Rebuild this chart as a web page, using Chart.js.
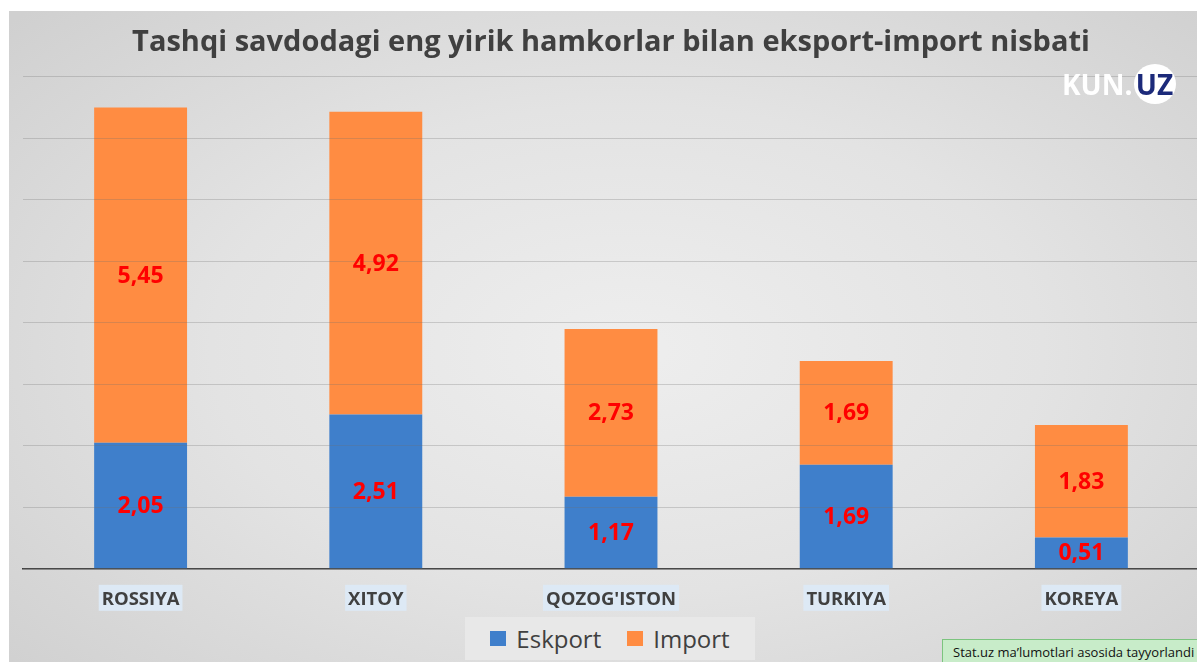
<!DOCTYPE html>
<html>
<head>
<meta charset="utf-8">
<script src="https://cdn.jsdelivr.net/npm/chart.js@4.4.0/dist/chart.umd.min.js"></script>
<style>
  html, body { margin: 0; padding: 0; background: #fff; overflow: hidden; }
  #wrap { position: relative; width: 1197px; height: 662px; overflow: hidden; background: #fff; }
  #bg {
    position: absolute; left: 9px; top: 11px; width: 1188px; height: 651px;
    background: radial-gradient(ellipse 70% 75% at 52% 52%, #eeeeee 0%, #e3e3e3 50%, #d0d0d0 100%);
  }
  #chart { position: absolute; left: 0; top: 0; }
  #legend {
    position: absolute; left: 465px; top: 617px; width: 290px; height: 43px;
    background: #e8e8e8; display: flex; align-items: center; justify-content: center;
    font-family: "Open Sans", sans-serif; font-size: 24px; color: #404040;
  }
  #legend .item { display: flex; align-items: center; margin: 0 13px; }
  #legend .box { width: 16px; height: 15px; margin-right: 10px; }
  #logo {
    position: absolute; left: 1062px; top: 64px; height: 40px;
    font-family: "Open Sans", sans-serif; font-weight: bold; font-size: 28px;
    color: #fff; display: flex; align-items: center;
  }
  #logo .uz {
    width: 42px; height: 40px; border-radius: 50%; background: #fff; color: #1c2a7a;
    display: flex; align-items: center; justify-content: center; margin-left: 1px;
  }
  #note {
    position: absolute; left: 942px; top: 639px; width: 260px; height: 24px;
    background: #c8ecc9; border: 1px solid #7cc47f; box-sizing: border-box;
    font-family: "Open Sans", sans-serif; font-size: 13px; color: #111;
    padding: 3px 0 0 10px; white-space: nowrap;
  }
</style>
</head>
<body>
<div id="wrap">
  <div id="bg"></div>
  <canvas id="chart" width="1200" height="662"></canvas>
  <div id="logo"><span>KUN.</span><span class="uz">UZ</span></div>
  <div id="legend"></div>
  <div id="note">Stat.uz ma’lumotlari asosida tayyorlandi</div>
</div>
<script>
const title = "Tashqi savdodagi eng yirik hamkorlar bilan eksport-import nisbati";
const countries = ["ROSSIYA", "XITOY", "QOZOG'ISTON", "TURKIYA", "KOREYA"];
const eksport = [2.05, 2.51, 1.17, 1.69, 0.51];
const importV = [5.45, 4.92, 2.73, 1.69, 1.83];
const seriesNames = ["Eskport", "Import"];
const seriesColors = ["#3f7fcb", "#ff8c42"];

const fmt = v => v.toFixed(2).replace('.', ',');

// light highlight behind category names, like the original
const labelBg = {
  id: 'labelBg',
  beforeDraw(chart) {
    const ctx = chart.ctx;
    const xs = chart.scales.x;
    const top = chart.chartArea.bottom + 16;
    ctx.save();
    ctx.font = 'bold 18.5px "Open Sans"';
    xs.ticks.forEach((t, i) => {
      const x = xs.getPixelForTick(i);
      const w = ctx.measureText(countries[i]).width;
      ctx.fillStyle = '#dde9f5';
      ctx.fillRect(x - w / 2 - 3, top, w + 6, 26);
    });
    ctx.restore();
  }
};

// red value labels in the middle of every segment
const valueLabels = {
  id: 'valueLabels',
  afterDraw(chart) {
    const ctx = chart.ctx;
    ctx.save();
    ctx.font = 'bold 23px "Open Sans"';
    ctx.fillStyle = '#ff0000';
    ctx.textAlign = 'center';
    ctx.textBaseline = 'middle';
    chart.data.datasets.forEach((ds, di) => {
      chart.getDatasetMeta(di).data.forEach((bar, i) => {
        const p = bar.getCenterPoint();
        ctx.fillText(fmt(ds.data[i]), p.x, p.y + 1);
      });
    });
    ctx.restore();
  }
};

const chart = new Chart(document.getElementById('chart'), {
  type: 'bar',
  data: {
    labels: countries,
    datasets: [
      { label: seriesNames[0], data: eksport, backgroundColor: seriesColors[0] },
      { label: seriesNames[1], data: importV, backgroundColor: seriesColors[1] }
    ]
  },
  options: {
    responsive: false,
    animation: false,
    layout: { padding: { left: 23, right: 1, top: 3, bottom: 31 } },
    datasets: { bar: { barPercentage: 0.395, categoryPercentage: 1 } },
    plugins: {
      legend: { display: false },
      tooltip: { enabled: false },
      title: {
        display: true,
        text: title,
        color: '#404040',
        font: { family: '"Open Sans"', size: 29, weight: 'bold' },
        padding: { top: 22, bottom: 17 }
      }
    },
    scales: {
      x: {
        stacked: true,
        grid: { display: false, drawTicks: false },
        border: { display: true, color: '#3a3a3a', width: 1.5 },
        ticks: {
          color: '#404040',
          padding: 20,
          font: { family: '"Open Sans"', size: 18.5, weight: 'bold' }
        }
      },
      y: {
        stacked: true,
        min: 0,
        max: 8,
        ticks: { display: false, stepSize: 1 },
        border: { display: false },
        grid: { color: 'rgba(110,110,110,0.28)', lineWidth: 1, drawTicks: false, z: 1 }
      }
    }
  },
  plugins: [labelBg, valueLabels]
});

// legend built from the datasets
const legend = document.getElementById('legend');
chart.data.datasets.forEach(ds => {
  const item = document.createElement('div');
  item.className = 'item';
  const box = document.createElement('span');
  box.className = 'box';
  box.style.background = ds.backgroundColor;
  const txt = document.createElement('span');
  txt.textContent = ds.label;
  item.appendChild(box);
  item.appendChild(txt);
  legend.appendChild(item);
});
</script>
</body>
</html>
